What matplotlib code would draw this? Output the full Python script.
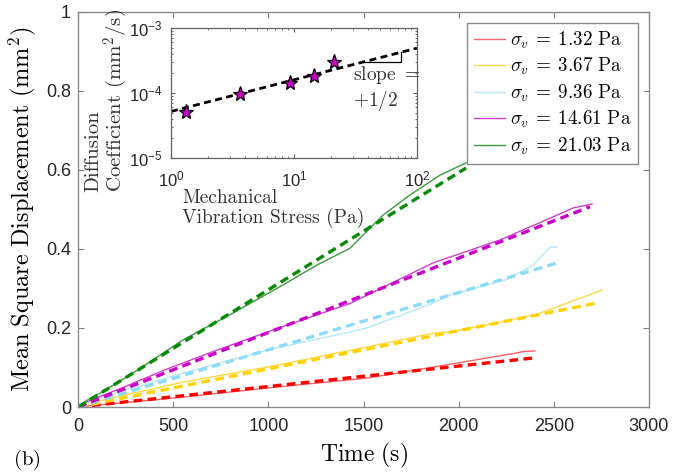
import matplotlib
matplotlib.use("Agg")
import matplotlib.pyplot as plt
from matplotlib.font_manager import FontProperties
from matplotlib.ticker import LogLocator, NullFormatter

plt.rcParams['font.family'] = ['Liberation Sans', 'DejaVu Sans']
plt.rcParams['mathtext.fontset'] = 'dejavusans'

# stress levels (legend)
stress = [1.32, 3.67, 9.36, 14.61, 21.03]
solid_colors = ['#ff6464', '#ffd84a', '#b4e8fa', '#d040d0', '#3c9a3c']
fit_colors = ['#ff0000', '#ffd200', '#8cdcf8', '#c800c8', '#078a07']

# measured MSD curves (time in s, msd in mm^2)
t_red = [0, 100, 289, 552, 993, 1518, 1866, 2307, 2333, 2401]
msd_red = [0, 0.005, 0.013, 0.025, 0.048, 0.073, 0.101, 0.137, 0.140, 0.142]
t_yel = [0, 100, 289, 552, 993, 1518, 1866, 1955, 2218, 2412, 2753]
msd_yel = [0, 0.014, 0.035, 0.063, 0.101, 0.152, 0.187, 0.19, 0.215, 0.235, 0.296]
t_cyan = [0, 100, 289, 552, 993, 1429, 1518, 1866, 1955, 2254, 2391, 2480, 2517]
msd_cyan = [0, 0.022, 0.048, 0.086, 0.144, 0.19, 0.2, 0.263, 0.284, 0.323, 0.359, 0.405, 0.405]
t_mag = [0, 50, 116, 204, 467, 730, 1025, 1429, 1866, 2218, 2480, 2602, 2701]
msd_mag = [0, 0.014, 0.027, 0.043, 0.096, 0.144, 0.195, 0.262, 0.365, 0.423, 0.478, 0.504, 0.514]
t_grn = [0, 50, 116, 289, 552, 815, 1077, 1254, 1429, 1603, 1745, 1902, 2039]
msd_grn = [0, 0.018, 0.035, 0.086, 0.17, 0.238, 0.309, 0.359, 0.402, 0.486, 0.537, 0.587, 0.618]

# linear fits: end points (start at origin)
fit_t_end = [2391, 2733, 2533, 2690, 2039]
fit_msd_end = [0.124, 0.264, 0.367, 0.507, 0.605]

# inset: diffusion coefficient vs stress
diff_coef = [5.1e-5, 9.7e-5, 1.42e-4, 1.83e-4, 3.0e-4]
fit_x = [1, 100]
fit_d = [5.2e-5, 4.9e-4]

curves = [(t_red, msd_red), (t_yel, msd_yel), (t_cyan, msd_cyan),
          (t_mag, msd_mag), (t_grn, msd_grn)]

fig = plt.figure(figsize=(6.9, 4.76), dpi=100)
ax = fig.add_axes([78 / 690, 1 - 407 / 476, 571 / 690, 395 / 476])

for i, (t, m) in enumerate(curves):
    ax.plot(t, m, color=solid_colors[i], lw=1.0,
            label=r'$\sigma_v\:=\:%.2f\ \mathrm{Pa}$' % stress[i])
for i in range(len(stress)):
    ax.plot([0, fit_t_end[i]], [0, fit_msd_end[i]], color=fit_colors[i],
            lw=2.4, ls=(0, (2.6, 1.6)))

ax.set_xlim(0, 3000)
ax.set_ylim(0, 1)
ax.set_xticks(range(0, 3001, 500))
ax.set_yticks([0, 0.2, 0.4, 0.6, 0.8, 1])
ax.set_yticklabels(['0', '0.2', '0.4', '0.6', '0.8', '1'])
ax.tick_params(direction='in', top=True, right=True, length=4, width=0.8,
               labelsize=13, color='#808080', labelcolor='#262626')
ax.tick_params(axis='x', pad=8)
ax.tick_params(axis='y', pad=5)
for s in ax.spines.values():
    s.set_color('#8a8a8a')
    s.set_linewidth(1.0)

ax.set_xlabel(r'$\mathrm{Time\ (s)}$', fontsize=17, math_fontfamily='cm',
              labelpad=4)
ax.set_ylabel(r'$\mathrm{Mean\ Square\ Displacement\ (mm^2)}$', fontsize=17.5,
              math_fontfamily='cm', labelpad=6)
fig.text(13 / 690, 1 - 460 / 476, r'$\mathrm{(b)}$', fontsize=15,
         math_fontfamily='cm', va='center', ha='left')

leg = ax.legend(loc='upper right', prop=FontProperties(size=13.8, math_fontfamily='cm'),
                fancybox=False, edgecolor='#8a8a8a', framealpha=1,
                handlelength=1.6, handletextpad=0.3, labelspacing=0.28,
                borderaxespad=0.55, borderpad=0.35)
leg.get_frame().set_linewidth(1.0)

# inset
ins = fig.add_axes([171 / 690, 1 - 158 / 476, 246 / 690, 130 / 476])
ins.set_xscale('log')
ins.set_yscale('log')
ins.plot(fit_x, fit_d, color='black', lw=2.0, ls=(0, (2.5, 1.6)))
ins.plot(stress, diff_coef, ls='none', marker='*', ms=11, mfc='#c800c8',
         mec='black', mew=0.9)
ins.plot([35.7, 74, 74], [3.0e-4, 3.0e-4, 4.27e-4], color='black', lw=0.9)
ins.text(30, 2.75e-4, r'$\mathrm{slope}\ =$' + '\n' + r'$+1/2$', fontsize=14,
         math_fontfamily='cm', va='top', ha='left', linespacing=1.1,
         color='#333333')
ins.set_xlim(1, 100)
ins.set_ylim(1e-5, 1e-3)
ins.xaxis.set_minor_locator(LogLocator(base=10, subs=range(2, 10)))
ins.yaxis.set_minor_locator(LogLocator(base=10, subs=range(2, 10)))
ins.xaxis.set_minor_formatter(NullFormatter())
ins.yaxis.set_minor_formatter(NullFormatter())
ins.tick_params(which='both', direction='in', top=True, right=True,
                color='#555555', labelsize=12, labelcolor='#262626')
ins.tick_params(which='major', length=3)
ins.tick_params(which='minor', length=1.5)
ins.tick_params(axis='x', pad=8)
ins.tick_params(axis='y', pad=6)
for s in ins.spines.values():
    s.set_color('#666666')
    s.set_linewidth(0.9)

fig.text(107 / 690, 1 - 192 / 476, 'Diffusion\n' + r'Coefficient (mm$^2$/s)',
         rotation=90, va='bottom', ha='center', multialignment='left',
         fontsize=15, family='cmr10', math_fontfamily='cm', linespacing=1.0,
         color='#333333')
fig.text(182 / 690, 1 - 189 / 476, 'Mechanical\nVibration Stress (Pa)',
         va='top', ha='left', multialignment='left', fontsize=14,
         family='cmr10', color='#333333', linespacing=1.05)

fig.savefig('out.png', dpi=100)
